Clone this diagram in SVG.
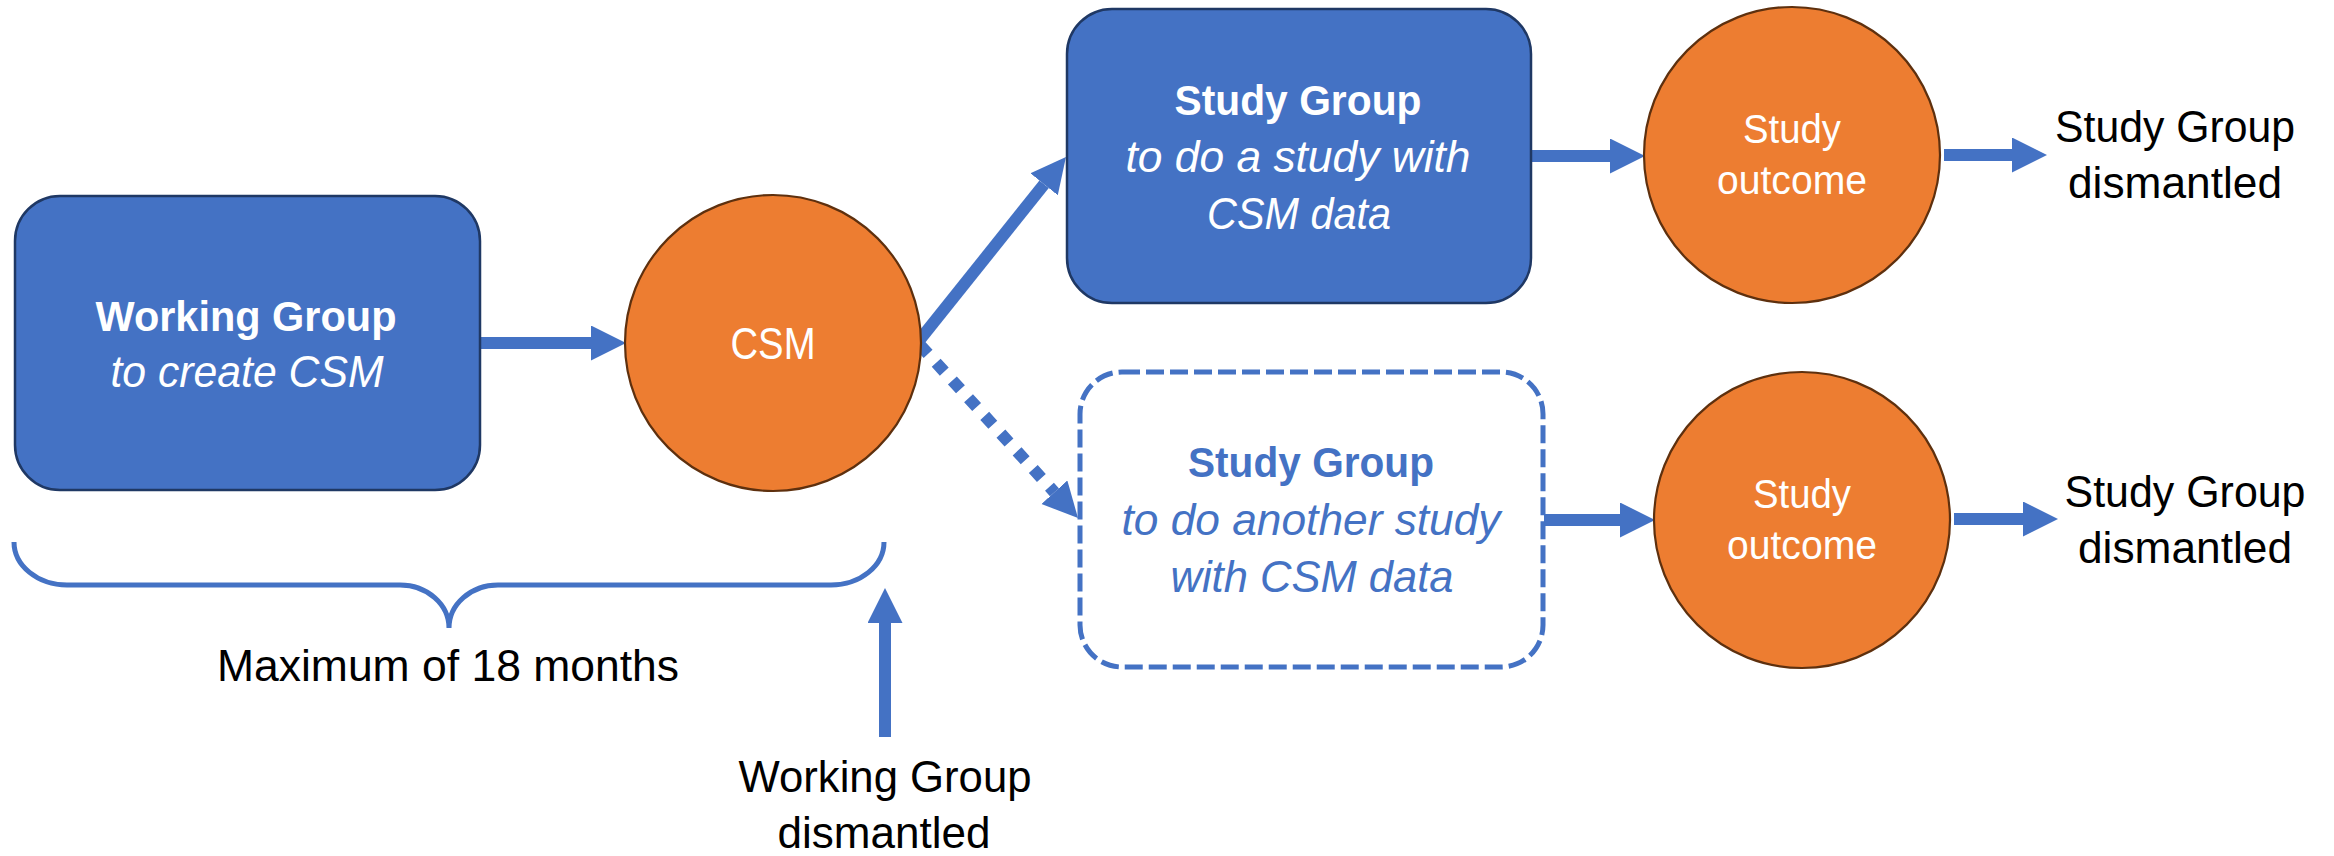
<svg xmlns="http://www.w3.org/2000/svg" width="2334" height="856" viewBox="0 0 2334 856">
  <defs>
    <style>
      .box { fill: #4472C4; stroke: #1F3864; stroke-width: 2.5; }
      .box-dash { fill: #FFFFFF; stroke: #4472C4; stroke-width: 5; stroke-dasharray: 18 6; }
      .disc { fill: #ED7D31; stroke: #5E300E; stroke-width: 2.2; }
      .link { stroke: #4472C4; stroke-width: 12; fill: none; }
      .dotted { stroke-dasharray: 12 12; }
      .brace { stroke: #4472C4; stroke-width: 5; fill: none; }
      text { font-family: "Liberation Sans", Arial, sans-serif; text-anchor: middle; }
      .t { font-size: 44px; }
      .b { font-size: 42px; font-weight: bold; }
      .i { font-size: 44px; font-style: italic; }
      .o { font-size: 40px; }
      .w { fill: #FFFFFF; }
      .k { fill: #000000; }
      .bl { fill: #4472C4; }
    </style>
    <marker id="head" markerUnits="userSpaceOnUse" markerWidth="36" markerHeight="36" refX="0" refY="17.5" orient="auto">
      <path d="M0,0 L35,17.5 L0,35 Z" fill="#4472C4"/>
    </marker>
  </defs>

  <!-- connectors -->
  <g id="connectors">
    <line class="link" x1="480" y1="343" x2="591" y2="343" marker-end="url(#head)"/>
    <line class="link" x1="918" y1="342" x2="1044.1" y2="184.3" marker-end="url(#head)"/>
    <line class="link dotted" x1="920" y1="345" x2="1054.4" y2="492.2" marker-end="url(#head)"/>
    <line class="link" x1="1531" y1="156" x2="1610" y2="156" marker-end="url(#head)"/>
    <line class="link" x1="1544" y1="520" x2="1620" y2="520" marker-end="url(#head)"/>
    <line class="link" x1="1944" y1="155" x2="2012" y2="155" marker-end="url(#head)"/>
    <line class="link" x1="1954" y1="519" x2="2023" y2="519" marker-end="url(#head)"/>
    <line class="link" x1="885" y1="737" x2="885" y2="623" marker-end="url(#head)"/>
  </g>

  <!-- working group -->
  <g id="working-group">
    <rect class="box" x="15" y="196" width="465" height="294" rx="45" ry="45"/>
    <text class="b w" x="246" y="331" textLength="301" lengthAdjust="spacingAndGlyphs">Working Group</text>
    <text class="i w" x="247" y="387" textLength="273" lengthAdjust="spacingAndGlyphs">to create CSM</text>
  </g>

  <!-- CSM -->
  <g id="csm">
    <circle class="disc" cx="773" cy="343" r="148"/>
    <text class="t w" x="773" y="359" textLength="85" lengthAdjust="spacingAndGlyphs">CSM</text>
  </g>

  <!-- first study group -->
  <g id="study-group-1">
    <rect class="box" x="1067" y="9" width="464" height="294" rx="45" ry="45"/>
    <text class="b w" x="1298" y="115" textLength="247" lengthAdjust="spacingAndGlyphs">Study Group</text>
    <text class="i w" x="1298" y="172" textLength="345" lengthAdjust="spacingAndGlyphs">to do a study with</text>
    <text class="i w" x="1299" y="229" textLength="184" lengthAdjust="spacingAndGlyphs">CSM data</text>
  </g>

  <!-- second study group (optional) -->
  <g id="study-group-2">
    <rect class="box-dash" x="1080" y="372" width="463" height="295" rx="42" ry="42"/>
    <text class="b bl" x="1311" y="477" textLength="246" lengthAdjust="spacingAndGlyphs">Study Group</text>
    <text class="i bl" x="1311" y="535" textLength="379" lengthAdjust="spacingAndGlyphs">to do another study</text>
    <text class="i bl" x="1312" y="592" textLength="283" lengthAdjust="spacingAndGlyphs">with CSM data</text>
  </g>

  <!-- outcomes -->
  <g id="outcome-1">
    <circle class="disc" cx="1792" cy="155" r="148"/>
    <text class="o w" x="1792" y="143" textLength="98" lengthAdjust="spacingAndGlyphs">Study</text>
    <text class="o w" x="1792" y="194" textLength="150" lengthAdjust="spacingAndGlyphs">outcome</text>
  </g>
  <g id="outcome-2">
    <circle class="disc" cx="1802" cy="520" r="148"/>
    <text class="o w" x="1802" y="508" textLength="98" lengthAdjust="spacingAndGlyphs">Study</text>
    <text class="o w" x="1802" y="559" textLength="150" lengthAdjust="spacingAndGlyphs">outcome</text>
  </g>

  <!-- end states -->
  <g id="dismantled-1">
    <text class="t k" x="2175" y="142" textLength="240" lengthAdjust="spacingAndGlyphs">Study Group</text>
    <text class="t k" x="2175" y="198" textLength="214" lengthAdjust="spacingAndGlyphs">dismantled</text>
  </g>
  <g id="dismantled-2">
    <text class="t k" x="2185" y="507" textLength="241" lengthAdjust="spacingAndGlyphs">Study Group</text>
    <text class="t k" x="2185" y="563" textLength="214" lengthAdjust="spacingAndGlyphs">dismantled</text>
  </g>

  <!-- time span brace -->
  <g id="duration">
    <path class="brace" d="M14,542 A53,43 0 0 0 67,585 L400,585 A49,43 0 0 1 449,628 A49,43 0 0 1 498,585 L831,585 A53,43 0 0 0 884,542"/>
    <text class="t k" x="448" y="681" textLength="462" lengthAdjust="spacingAndGlyphs">Maximum of 18 months</text>
  </g>

  <g id="working-group-dismantled">
    <text class="t k" x="885" y="792" textLength="293" lengthAdjust="spacingAndGlyphs">Working Group</text>
    <text class="t k" x="884" y="848" textLength="213" lengthAdjust="spacingAndGlyphs">dismantled</text>
  </g>
</svg>
